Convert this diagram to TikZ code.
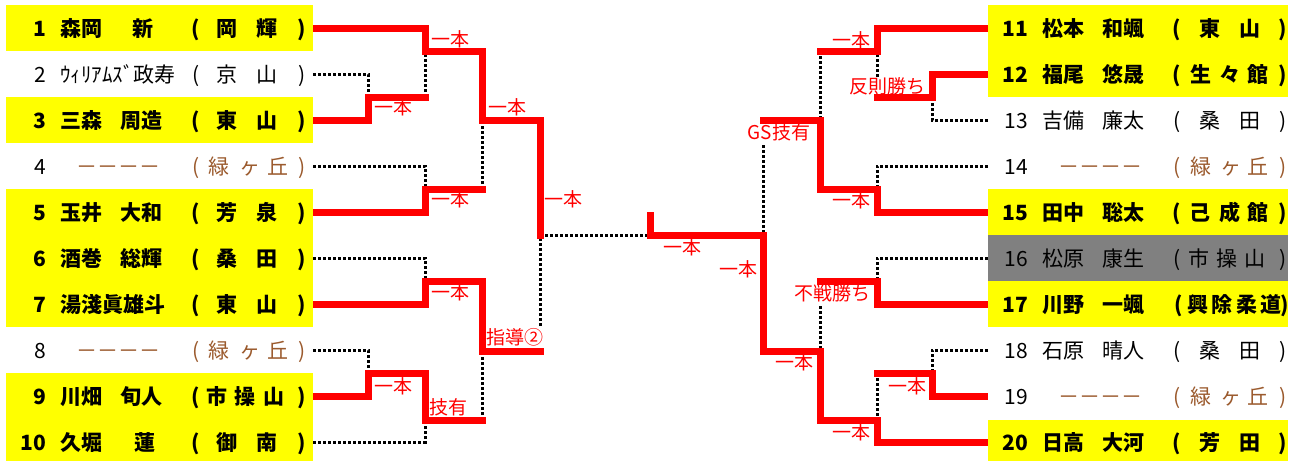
\documentclass[tikz,border=0pt]{standalone}
\usepackage{fontspec}
\newfontfamily\jp{Noto Sans CJK JP}
\definecolor{brn}{RGB}{155,90,45}
\definecolor{ylw}{RGB}{255,255,0}
\definecolor{gry}{RGB}{128,128,128}
\definecolor{rd}{RGB}{255,0,0}
\newcommand\fnm{\jp\fontsize{21}{21}\selectfont}
\newcommand\flb{\jp\fontsize{19}{19}\selectfont}
\newcommand\sch[4]{\foreach \xx/\cc [count=\k] in {#4} {\node[tx,#1] (#2-\k) at (\xx,#3) {\cc};}}
\tikzset{
  win/.style={draw=rd, line width=7pt, line cap=rect, line join=miter},
  lose/.style={draw=black, line width=3pt, dash pattern=on 3pt off 2pt},
  lbl/.style={font=\flb, text=rd, fill=white, inner sep=0.5pt, text height=16pt, text depth=2.3pt, anchor=center},
  tx/.style={inner sep=0, anchor=base},
  tw/.style={inner sep=0, anchor=base west},
  te/.style={inner sep=0, anchor=base east},
  bd/.style={font=\fnm\bfseries},
  rg/.style={font=\fnm},
  br/.style={font=\fnm, text=brn},
}
\begin{document}
\begin{tikzpicture}[x=1pt,y=-1pt]
\useasboundingbox[fill=white] (0,0) rectangle (1289,461);
% row backgrounds
\fill[ylw] (6,5) rectangle (313,51);
\fill[ylw] (6,97) rectangle (313,143);
\fill[ylw] (6,189) rectangle (313,327);
\fill[ylw] (6,373) rectangle (313,461);
\fill[ylw] (988,5) rectangle (1288,97);
\fill[ylw] (988,189) rectangle (1288,235);
\fill[gry] (988,235) rectangle (1288,281);
\fill[ylw] (988,281) rectangle (1288,327);
\fill[ylw] (988,420) rectangle (1288,461);
% row end points
\foreach \i/\y in {1/28,2/74,3/120,4/166,5/212,6/258,7/304,8/350,9/396,10/442}
  \coordinate (p\i) at (313,\y);
\foreach \i/\y in {11/28,12/74,13/120,14/166,15/212,16/258,17/304,18/350,19/396,20/442}
  \coordinate (p\i) at (988,\y);
% junctions left
\coordinate (jA) at (368,97);
\coordinate (jB) at (425,51);
\coordinate (jC) at (425,189);
\coordinate (jD) at (482,120);
\coordinate (jE) at (425,281);
\coordinate (jF) at (368,373);
\coordinate (jG) at (425,420);
\coordinate (jH) at (482,351);
\coordinate (jI) at (540,235);
\coordinate (jZ) at (650,235);
\coordinate (jZt) at (650,215.5);
% junctions right
\coordinate (kA) at (932,97);
\coordinate (kB) at (877,51);
\coordinate (kC) at (877,189);
\coordinate (kD) at (820,120);
\coordinate (kE) at (877,281);
\coordinate (kF) at (932,373);
\coordinate (kG) at (877,420);
\coordinate (kH) at (820,351);
\coordinate (kI) at (763,235);
% losing lines
\draw[lose] (p2) -| (jA);
\draw[lose] (jB |- jA) -- (jB);
\draw[lose] (p4) -| (jC);
\draw[lose] (jD |- jC) -- (jD);
\draw[lose] (p6) -| (jE);
\draw[lose] (p8) -| (jF);
\draw[lose] (p10) -| (jG);
\draw[lose] (jH |- jG) -- (jH);
\draw[lose] (jI |- jH) -- (jI);
\draw[lose] (jI) -- (jZ);
\draw[lose] (p13) -| (kA);
\draw[lose] (kB |- kA) -- (kB);
\draw[lose] (p14) -| (kC);
\draw[lose] (kD |- kB) -- (kD);
\draw[lose] (p16) -| (kE);
\draw[lose] (kH |- kE) -- (kH);
\draw[lose] (p18) -| (kF);
\draw[lose] (kG |- kF) -- (kG);
\draw[lose] (kI |- kD) -- (kI);
% labels
\node[lbl] (l1) at (450,40) {一本};
\node[lbl] (l2) at (393,108) {一本};
\node[lbl] (l3) at (507,108) {一本};
\node[lbl] (l4) at (450,200) {一本};
\node[lbl] (l5) at (563,200) {一本};
\node[lbl] (l6) at (450,293) {一本};
\node[lbl] (l7) at (515,338) {指導②};
\node[lbl] (l8) at (393,387) {一本};
\node[lbl] (l9) at (448,408) {技有};
\node[lbl] (r1) at (851,41) {一本};
\node[lbl] (r2) at (887,87) {反則勝ち};
\node[lbl] (r3) at (779,133) {GS技有};
\node[lbl] (r4) at (851,201) {一本};
\node[lbl] (r5) at (682,248) {一本};
\node[lbl] (r6) at (738,270) {一本};
\node[lbl] (r7) at (832,294) {不戦勝ち};
\node[lbl] (r8) at (794,363) {一本};
\node[lbl] (r9) at (907,387) {一本};
\node[lbl] (r10) at (851,433) {一本};
% winning lines
\draw[win, shorten <=3.5pt] (p1) -| (jB) -- (jD |- jB) -- (jD) -- (jI |- jD) -- (jI);
\draw[win, shorten <=3.5pt] (p3) -| (jA) -- (jB |- jA);
\draw[win, shorten <=3.5pt] (p5) -| (jC) -- (jD |- jC);
\draw[win, shorten <=3.5pt] (p7) -| (jE) -- (jH |- jE) -- (jH) -- (jI |- jH);
\draw[win, shorten <=3.5pt] (p9) -| (jF) -- (jG |- jF) -- (jG) -- (jH |- jG);
\draw[win, shorten <=3.5pt] (p11) -| (kB) -- (kD |- kB);
\draw[win, shorten <=3.5pt] (p12) -| (kA) -- (kB |- kA);
\draw[win, shorten <=3.5pt] (p15) -| (kC) -- (kD |- kC) -- (kD) -- (kI |- kD);
\draw[win, shorten <=3.5pt] (p17) -| (kE) -- (kH |- kE);
\draw[win, shorten <=3.5pt] (p19) -| (kF) -- (kG |- kF);
\draw[win, shorten <=3.5pt] (p20) -| (kG) -- (kH |- kG) -- (kH) -- (kI |- kH) -- (kI) -- (jZ) -- (jZt);
% left entries
\node[te,bd] (n1) at (46,36) {1};
\node[tw,bd] (f1) at (60,36) {森岡};
\node[tx,bd] (g1) at (143,36) {新};
\sch{bd}{s1}{36}{196/{(},227/岡,267/輝,302/{)}}
\node[te,rg] (n2) at (46,82) {2};
\node[tw,rg] (f2) at (60,82) {ｳｨﾘｱﾑｽﾞ政寿};
\sch{rg}{s2}{82}{196/{(},227/京,267/山,302/{)}}
\node[te,bd] (n3) at (46,128) {3};
\node[tw,bd] (f3) at (60,128) {三森};
\node[tw,bd] (g3) at (120,128) {周造};
\sch{bd}{s3}{128}{196/{(},227/東,267/山,302/{)}}
\node[te,rg] (n4) at (46,174) {4};
\node[tw,br] (f4) at (76,174) {－－－－};
\sch{br}{s4}{174}{196/{(},219/緑,250/ヶ,278/丘,302/{)}}
\node[te,bd] (n5) at (46,220) {5};
\node[tw,bd] (f5) at (60,220) {玉井};
\node[tw,bd] (g5) at (120,220) {大和};
\sch{bd}{s5}{220}{196/{(},227/芳,267/泉,302/{)}}
\node[te,bd] (n6) at (46,266) {6};
\node[tw,bd] (f6) at (60,266) {酒巻};
\node[tw,bd] (g6) at (120,266) {総輝};
\sch{bd}{s6}{266}{196/{(},227/桑,267/田,302/{)}}
\node[te,bd] (n7) at (46,312) {7};
\node[tw,bd] (f7) at (60,312) {湯淺眞雄斗};
\sch{bd}{s7}{312}{196/{(},227/東,267/山,302/{)}}
\node[te,rg] (n8) at (46,358) {8};
\node[tw,br] (f8) at (76,358) {－－－－};
\sch{br}{s8}{358}{196/{(},219/緑,250/ヶ,278/丘,302/{)}}
\node[te,bd] (n9) at (46,404) {9};
\node[tw,bd] (f9) at (60,404) {川畑};
\node[tw,bd] (g9) at (120,404) {旬人};
\sch{bd}{s9}{404}{196/{(},217/市,245/操,274/山,302/{)}}
\node[te,bd] (n10) at (46,450) {10};
\node[tw,bd] (f10) at (60,450) {久堀};
\node[tx,bd] (g10) at (145,450) {蓮};
\sch{bd}{s10}{450}{196/{(},227/御,267/南,302/{)}}
% right entries
\node[te,bd] (n11) at (1028,36) {11};
\node[tw,bd] (f11) at (1042,36) {松本};
\node[tw,bd] (g11) at (1102,36) {和颯};
\sch{bd}{s11}{36}{1177/{(},1210/東,1250/山,1283/{)}}
\node[te,bd] (n12) at (1028,82) {12};
\node[tw,bd] (f12) at (1042,82) {福尾};
\node[tw,bd] (g12) at (1102,82) {悠晟};
\sch{bd}{s12}{82}{1177/{(},1201/生,1230/々,1258/館,1283/{)}}
\node[te,rg] (n13) at (1028,128) {13};
\node[tw,rg] (f13) at (1042,128) {吉備};
\node[tw,rg] (g13) at (1102,128) {廉太};
\sch{rg}{s13}{128}{1177/{(},1210/桑,1250/田,1283/{)}}
\node[te,rg] (n14) at (1028,174) {14};
\node[tw,br] (f14) at (1058,174) {－－－－};
\sch{br}{s14}{174}{1177/{(},1201/緑,1231/ヶ,1258/丘,1283/{)}}
\node[te,bd] (n15) at (1028,220) {15};
\node[tw,bd] (f15) at (1042,220) {田中};
\node[tw,bd] (g15) at (1102,220) {聡太};
\sch{bd}{s15}{220}{1177/{(},1200/己,1230/成,1258/館,1283/{)}}
\node[te,rg] (n16) at (1028,266) {16};
\node[tw,rg] (f16) at (1042,266) {松原};
\node[tw,rg] (g16) at (1102,266) {康生};
\sch{rg}{s16}{266}{1177/{(},1199/市,1227/操,1255/山,1283/{)}}
\node[te,bd] (n17) at (1028,312) {17};
\node[tw,bd] (f17) at (1042,312) {川野};
\node[tw,bd] (g17) at (1102,312) {一颯};
\sch{bd}{s17}{312}{1179/{(},1198/興,1222/除,1247/柔,1271/道,1285/{)}}
\node[te,rg] (n18) at (1028,358) {18};
\node[tw,rg] (f18) at (1042,358) {石原};
\node[tw,rg] (g18) at (1102,358) {晴人};
\sch{rg}{s18}{358}{1177/{(},1210/桑,1250/田,1283/{)}}
\node[te,rg] (n19) at (1028,404) {19};
\node[tw,br] (f19) at (1058,404) {－－－－};
\sch{br}{s19}{404}{1177/{(},1201/緑,1231/ヶ,1258/丘,1283/{)}}
\node[te,bd] (n20) at (1028,450) {20};
\node[tw,bd] (f20) at (1042,450) {日高};
\node[tw,bd] (g20) at (1102,450) {大河};
\sch{bd}{s20}{450}{1177/{(},1210/芳,1250/田,1283/{)}}
\end{tikzpicture}
\end{document}
